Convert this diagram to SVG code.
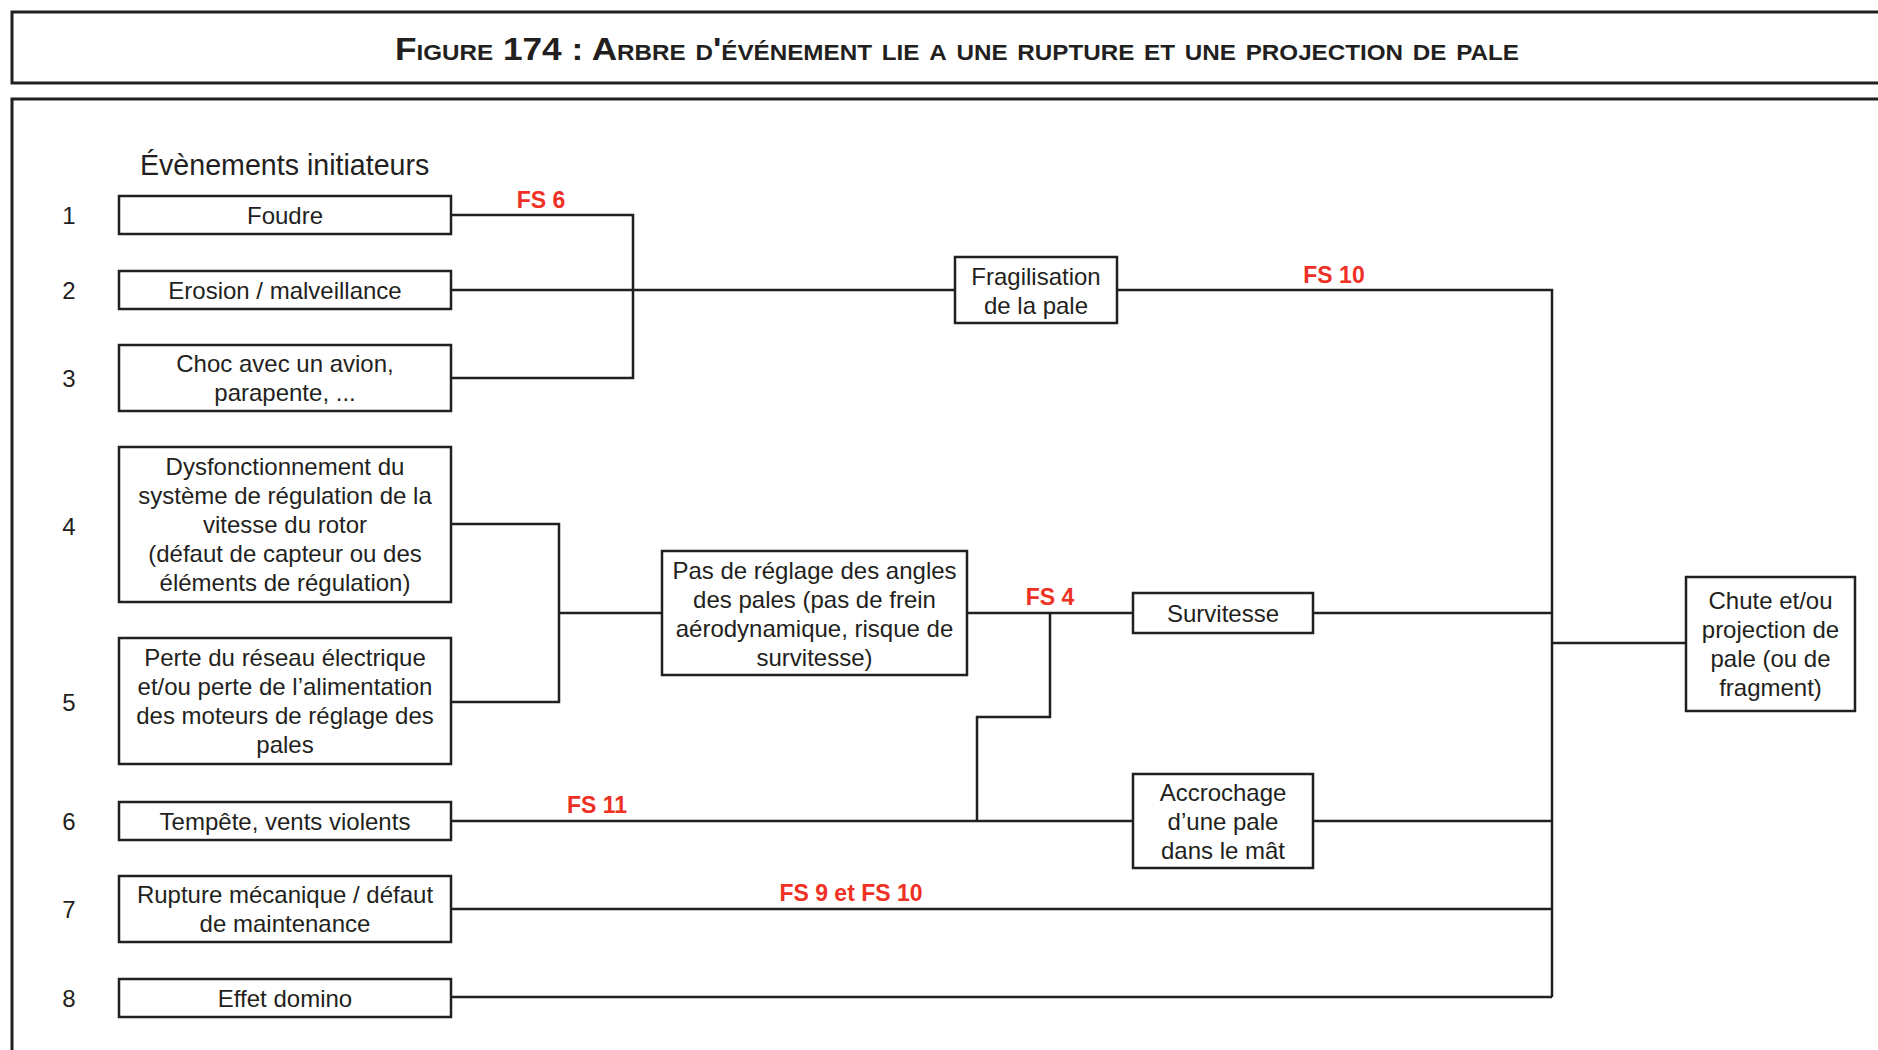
<svg xmlns="http://www.w3.org/2000/svg" width="1878" height="1050" viewBox="0 0 1878 1050">
<style>
  .frame{fill:none;stroke:#231f20;stroke-width:3}
  .box{fill:#fff;stroke:#231f20;stroke-width:2.5}
  .ln{fill:none;stroke:#231f20;stroke-width:2.5}
  .t{font-family:"Liberation Sans",Arial,sans-serif;font-size:24px;fill:#231f20;text-anchor:middle}
  .num{font-family:"Liberation Sans",Arial,sans-serif;font-size:24px;fill:#231f20;text-anchor:middle}
  .fs{font-family:"Liberation Sans",Arial,sans-serif;font-size:23px;font-weight:bold;fill:#ee3124;text-anchor:middle}
  .title{font-family:"Liberation Sans",Arial,sans-serif;font-size:32px;font-weight:bold;fill:#231f20;font-variant:small-caps}
  .head{font-family:"Liberation Sans",Arial,sans-serif;font-size:28.6px;fill:#231f20}
</style>
<rect width="1878" height="1050" fill="#fff"/>
<g id="frames">
  <path class="frame" d="M1890 12 H12 V83 H1890"/>
  <path class="frame" d="M1890 99 H12 V1060"/>
</g>
<text id="title" class="title" x="395" y="60" textLength="1124" lengthAdjust="spacingAndGlyphs">Figure 174 : Arbre d'événement lie a une rupture et une projection de pale</text>
<text id="heading" class="head" x="140" y="175">Évènements initiateurs</text>
<g id="numbers">
  <text class="num" x="69" y="224">1</text>
  <text class="num" x="69" y="299">2</text>
  <text class="num" x="69" y="387">3</text>
  <text class="num" x="69" y="535">4</text>
  <text class="num" x="69" y="711">5</text>
  <text class="num" x="69" y="830">6</text>
  <text class="num" x="69" y="918">7</text>
  <text class="num" x="69" y="1007">8</text>
</g>
<g id="connectors">
  <path class="ln" d="M451 215 H633 V378 H451"/>
  <path class="ln" d="M451 290 H955"/>
  <path class="ln" d="M1117 290 H1552 V997"/>
  <path class="ln" d="M451 524 H559 V702 H451"/>
  <path class="ln" d="M559 613 H662"/>
  <path class="ln" d="M967 613 H1133"/>
  <path class="ln" d="M1050 613 V717 H977 V821"/>
  <path class="ln" d="M451 821 H1133"/>
  <path class="ln" d="M1313 613 H1552"/>
  <path class="ln" d="M1313 821 H1552"/>
  <path class="ln" d="M451 909 H1552"/>
  <path class="ln" d="M451 997 H1552"/>
  <path class="ln" d="M1552 643 H1686"/>
</g>
<g id="labels">
  <text class="fs" x="541" y="208">FS 6</text>
  <text class="fs" x="1334" y="283">FS 10</text>
  <text class="fs" x="1050" y="605">FS 4</text>
  <text class="fs" x="597" y="813">FS 11</text>
  <text class="fs" x="851" y="901">FS 9 et FS 10</text>
</g>
<g id="n1"><rect class="box" x="119" y="196" width="332" height="38"/><text class="t" x="285" y="224">Foudre</text></g>
<g id="n2"><rect class="box" x="119" y="271" width="332" height="38"/><text class="t" x="285" y="299">Erosion / malveillance</text></g>
<g id="n3"><rect class="box" x="119" y="345" width="332" height="66"/><text class="t" x="285" y="372">Choc avec un avion,</text><text class="t" x="285" y="401">parapente, ...</text></g>
<g id="n4"><rect class="box" x="119" y="447" width="332" height="155"/>
  <text class="t" x="285" y="475">Dysfonctionnement du</text>
  <text class="t" x="285" y="504">système de régulation de la</text>
  <text class="t" x="285" y="533">vitesse du rotor</text>
  <text class="t" x="285" y="562">(défaut de capteur ou des</text>
  <text class="t" x="285" y="591">éléments de régulation)</text></g>
<g id="n5"><rect class="box" x="119" y="638" width="332" height="126"/>
  <text class="t" x="285" y="666">Perte du réseau électrique</text>
  <text class="t" x="285" y="695">et/ou perte de l’alimentation</text>
  <text class="t" x="285" y="724">des moteurs de réglage des</text>
  <text class="t" x="285" y="753">pales</text></g>
<g id="n6"><rect class="box" x="119" y="802" width="332" height="38"/><text class="t" x="285" y="830">Tempête, vents violents</text></g>
<g id="n7"><rect class="box" x="119" y="876" width="332" height="66"/><text class="t" x="285" y="903">Rupture mécanique / défaut</text><text class="t" x="285" y="932">de maintenance</text></g>
<g id="n8"><rect class="box" x="119" y="979" width="332" height="38"/><text class="t" x="285" y="1007">Effet domino</text></g>
<g id="fragilisation"><rect class="box" x="955" y="257" width="162" height="66"/><text class="t" x="1036" y="285">Fragilisation</text><text class="t" x="1036" y="314">de la pale</text></g>
<g id="pas"><rect class="box" x="662" y="551" width="305" height="124"/>
  <text class="t" x="814.5" y="579">Pas de réglage des angles</text>
  <text class="t" x="814.5" y="608">des pales (pas de frein</text>
  <text class="t" x="814.5" y="637">aérodynamique, risque de</text>
  <text class="t" x="814.5" y="666">survitesse)</text></g>
<g id="survitesse"><rect class="box" x="1133" y="593" width="180" height="40"/><text class="t" x="1223" y="622">Survitesse</text></g>
<g id="accrochage"><rect class="box" x="1133" y="774" width="180" height="94"/>
  <text class="t" x="1223" y="801">Accrochage</text>
  <text class="t" x="1223" y="830">d’une pale</text>
  <text class="t" x="1223" y="859">dans le mât</text></g>
<g id="chute"><rect class="box" x="1686" y="577" width="169" height="134"/>
  <text class="t" x="1770.5" y="609">Chute et/ou</text>
  <text class="t" x="1770.5" y="638">projection de</text>
  <text class="t" x="1770.5" y="667">pale (ou de</text>
  <text class="t" x="1770.5" y="696">fragment)</text></g>
</svg>
